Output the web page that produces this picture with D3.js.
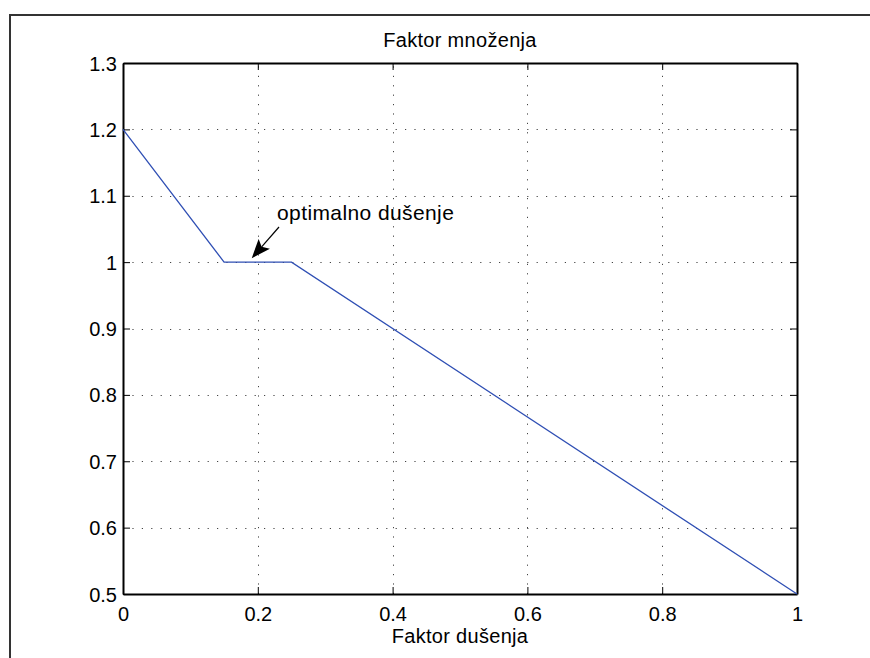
<!DOCTYPE html>
<html>
<head>
<meta charset="utf-8">
<script src="https://cdn.jsdelivr.net/npm/d3@7"></script>
<style>
  html, body { margin: 0; padding: 0; background: #fff; }
  svg { display: block; }
  text { font-family: "Liberation Sans", Arial, Helvetica, sans-serif; fill: #000; }
</style>
</head>
<body>
<svg id="chart" width="870" height="658"></svg>
<script>
// Piecewise-linear multiplication factor vs damping factor
const dampingX = [0, 0.15, 0.25, 1];
const factorY = [1.2, 1, 1, 0.5];

const xTicks = [0, 0.2, 0.4, 0.6, 0.8, 1];
const yTicks = [0.5, 0.6, 0.7, 0.8, 0.9, 1, 1.1, 1.2, 1.3];
const xTickLabels = ["0", "0.2", "0.4", "0.6", "0.8", "1"];
const yTickLabels = ["0.5", "0.6", "0.7", "0.8", "0.9", "1", "1.1", "1.2", "1.3"];

const titleText = "Faktor množenja";
const xLabelText = "Faktor dušenja";
const noteText = "optimalno dušenje";
const notePoint = [0.19, 1]; // where the arrow points

const svg = d3.select("#chart");
const plot = { left: 123, top: 63, right: 797, bottom: 594 };

const x = d3.scaleLinear().domain([0, 1]).range([plot.left, plot.right]);
const y = d3.scaleLinear().domain([0.5, 1.3]).range([plot.bottom, plot.top]);

// figure frame (top and left edges)
svg.append("path")
  .attr("d", "M10,658 L10,15 L870,15")
  .attr("fill", "none")
  .attr("stroke", "#333")
  .attr("stroke-width", 2);

// dotted grid
const grid = svg.append("g")
  .attr("stroke", "#444")
  .attr("stroke-width", 1)
  .attr("stroke-dasharray", "1.2,8.2");
grid.selectAll("line.gx")
  .data(xTicks.filter(d => d > 0 && d < 1))
  .enter().append("line")
  .attr("x1", d => Math.round(x(d)) + 0.5).attr("x2", d => Math.round(x(d)) + 0.5)
  .attr("y1", plot.bottom).attr("y2", plot.top);
grid.selectAll("line.gy")
  .data(yTicks.filter(d => d > 0.5 && d < 1.3))
  .enter().append("line")
  .attr("y1", d => Math.round(y(d)) + 0.5).attr("y2", d => Math.round(y(d)) + 0.5)
  .attr("x1", plot.left).attr("x2", plot.right);

// axes with inward ticks on all four sides
const tickLen = 7;
const fmtX = (d, i) => xTickLabels[i];
const fmtY = (d, i) => yTickLabels[i];

const axB = svg.append("g").attr("transform", `translate(0,${plot.bottom})`)
  .call(d3.axisBottom(x).tickValues(xTicks).tickFormat(fmtX).tickSizeInner(-tickLen).tickSizeOuter(0).tickPadding(13));
const axT = svg.append("g").attr("transform", `translate(0,${plot.top})`)
  .call(d3.axisTop(x).tickValues(xTicks).tickFormat("").tickSizeInner(-tickLen).tickSizeOuter(0));
const axL = svg.append("g").attr("transform", `translate(${plot.left},0)`)
  .call(d3.axisLeft(y).tickValues(yTicks).tickFormat(fmtY).tickSizeInner(-tickLen).tickSizeOuter(0).tickPadding(6));
const axR = svg.append("g").attr("transform", `translate(${plot.right},0)`)
  .call(d3.axisRight(y).tickValues(yTicks).tickFormat("").tickSizeInner(-tickLen).tickSizeOuter(0));

[axB, axT, axL, axR].forEach(a => {
  a.select(".domain").attr("stroke", "#000").attr("stroke-width", 2);
  a.selectAll(".tick line").attr("stroke", "#000").attr("stroke-width", 1);
  a.selectAll("text").attr("font-size", 20).attr("font-family", "'Liberation Sans', Arial, sans-serif");
});
axL.selectAll("text").attr("dy", "0.35em");

// data line
svg.append("path")
  .datum(dampingX.map((d, i) => [d, factorY[i]]))
  .attr("d", d3.line().x(d => x(d[0])).y(d => y(d[1])))
  .attr("fill", "none")
  .attr("stroke", "#2f4fb4")
  .attr("stroke-width", 1.3);

// title and axis label
svg.append("text")
  .attr("x", (plot.left + plot.right) / 2).attr("y", 47)
  .attr("text-anchor", "middle").attr("font-size", 20)
  .attr("letter-spacing", 0.3)
  .text(titleText);
svg.append("text")
  .attr("x", (plot.left + plot.right) / 2).attr("y", 643)
  .attr("text-anchor", "middle").attr("font-size", 20)
  .attr("letter-spacing", 0.3)
  .text(xLabelText);

// annotation with arrow
const tip = [x(notePoint[0]) + 0.7, y(notePoint[1]) - 4];
const tail = [279, 227];
const dx = tip[0] - tail[0], dy = tip[1] - tail[1];
const len = Math.hypot(dx, dy);
const ux = dx / len, uy = dy / len;
const px = -uy, py = ux;
const headLen = 19, headHalf = 7.5, notch = 4;
const base = [tip[0] - headLen * ux, tip[1] - headLen * uy];
const notchPt = [base[0] + notch * ux, base[1] + notch * uy];

svg.append("line")
  .attr("x1", tail[0]).attr("y1", tail[1])
  .attr("x2", notchPt[0]).attr("y2", notchPt[1])
  .attr("stroke", "#000").attr("stroke-width", 1.2);
svg.append("path")
  .attr("d", d3.line()([
    tip,
    [base[0] + headHalf * px, base[1] + headHalf * py],
    notchPt,
    [base[0] - headHalf * px, base[1] - headHalf * py]
  ]) + "Z")
  .attr("fill", "#000");

svg.append("text")
  .attr("x", 277).attr("y", 220)
  .attr("font-size", 21)
  .attr("letter-spacing", 0.4)
  .text(noteText);
</script>
</body>
</html>
